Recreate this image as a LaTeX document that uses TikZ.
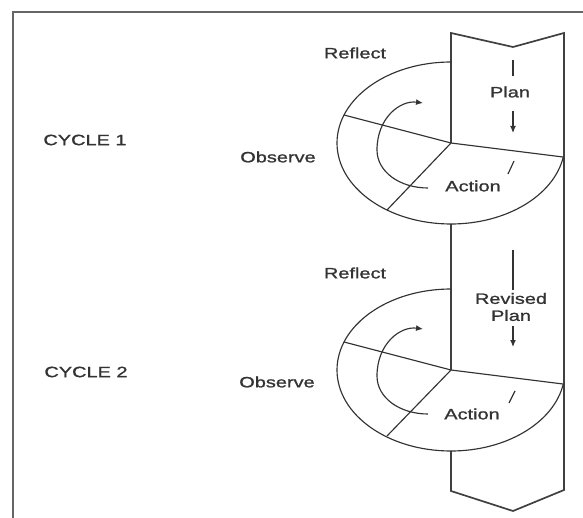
\documentclass[tikz,border=0pt]{standalone}
\usepackage{fontspec}
\setmainfont{Liberation Sans}[FakeStretch=1.33,FakeBold=1.2]
\usetikzlibrary{arrows.meta}
\begin{document}
\begin{tikzpicture}[x=1pt,y=-1pt,
  lbl/.style={font=\fontsize{15}{17}\selectfont, text=black!80, inner sep=0pt, align=center},
  thinline/.style={line width=1.15pt, draw=black!80},
  colline/.style={line width=1.7pt, draw=black!75, line join=miter},
  tipA/.style={-{Latex[length=7pt,width=6pt]}}]
\useasboundingbox (0,0) rectangle (583,518);

% frame
\draw[line width=2pt, draw=black!60] (13,518) -- (13,12) -- (583,12);

% column (band)
\coordinate (c1) at (451,143);
\coordinate (c2) at (451,370);
\coordinate (b1) at (451,224);
\coordinate (b2) at (451,451);
\draw[colline] (c1) -- (451,33) -- (513,47) -- (564,33) -- (564,490) -- (513,511) -- (451,491) -- (b2);
\draw[colline] (b1) -- (c2);

% cycle 1 disk
\draw[thinline] (451,62) arc[start angle=270, end angle=10, x radius=114, y radius=81];
\coordinate (ul1) at (344,115);
\coordinate (ll1) at (387,210);
\coordinate (r1) at (563,157);
\draw[thinline] (ul1) -- (c1) -- (r1);
\draw[thinline] (c1) -- (ll1);

% cycle 2 disk
\draw[thinline] (451,289) arc[start angle=270, end angle=10, x radius=114, y radius=81];
\coordinate (ul2) at (344,342);
\coordinate (ll2) at (387,436);
\coordinate (r2) at (563,384);
\draw[thinline] (ul2) -- (c2) -- (r2);
\draw[thinline] (c2) -- (ll2);

% inner circular arrows
\draw[thinline, tipA] (428,188) .. controls (400,188) and (377,172) .. (377,150)
  .. controls (377,118) and (400,100) .. (423,103);
\draw[thinline, tipA] (428,414) .. controls (400,414) and (377,398) .. (377,376)
  .. controls (377,344) and (400,326) .. (423,329);

% plan arrows
\draw[thinline] (513,60) -- (513,76);
\draw[thinline, tipA] (513,111) -- (513,133);
\draw[thinline] (514,161) -- (508,174);
\draw[thinline] (513,250) -- (513,290);
\draw[thinline, tipA] (513,326) -- (513,347);
\draw[thinline] (515,391) -- (509,403);

% labels
\node[lbl] (reflect1) at (355,53) {Reflect};
\node[lbl] (plan1) at (510,92) {Plan};
\node[lbl] (observe1) at (278,157) {Observe};
\node[lbl] (action1) at (473,186) {Action};
\node[lbl] (cycle1) at (85,140) {CYCLE 1};
\node[lbl] (reflect2) at (355,273) {Reflect};
\node[lbl] (plan2) at (511,307) {Revised\\Plan};
\node[lbl] (observe2) at (277,382) {Observe};
\node[lbl] (action2) at (472,414) {Action};
\node[lbl] (cycle2) at (86,372) {CYCLE 2};
\end{tikzpicture}
\end{document}
